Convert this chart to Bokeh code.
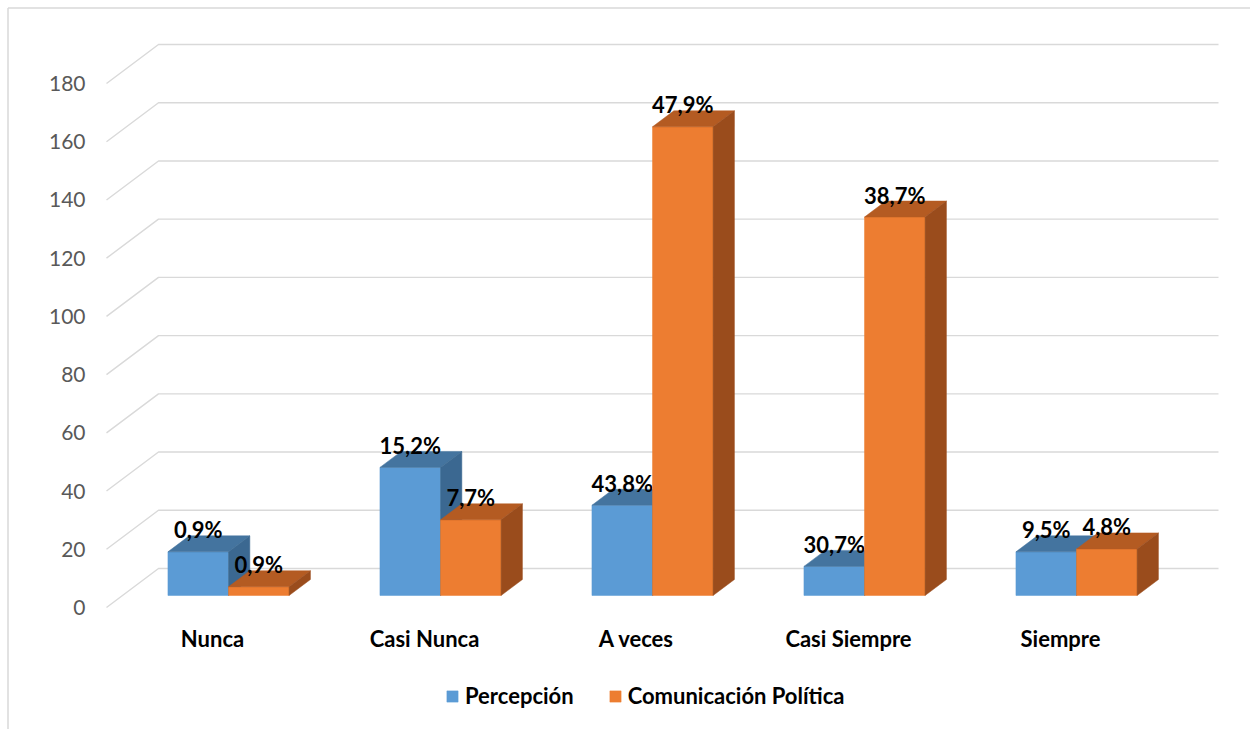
from bokeh.plotting import figure
from bokeh.models import Range1d, Legend, LegendItem
from bokeh.core.properties import value
from bokeh.embed import file_html
from bokeh.resources import INLINE

# ---- data -------------------------------------------------------------
categories = ["Nunca", "Casi Nunca", "A veces", "Casi Siempre", "Siempre"]
percepcion = [15, 44, 31, 10, 15]
comunicacion = [3, 26, 161, 130, 16]
etiquetas_percepcion = ["0,9%", "15,2%", "43,8%", "30,7%", "9,5%"]
etiquetas_comunicacion = ["0,9%", "7,7%", "47,9%", "38,7%", "4,8%"]
y_ticks = [0, 20, 40, 60, 80, 100, 120, 140, 160, 180]
series_names = ["Percepción", "Comunicación Política"]

# ---- geometry of the pseudo-3D view -------------------------------------
W, H = 1250, 729
X0_PX = 106            # left edge of the front floor
BAND_PX = 212          # one category band
Y0_PX = 607            # value 0 on the front plane
UNIT_PX = 524 / 180    # pixels per value unit
DX = 52 / BAND_PX      # wall depth, horizontal shift (x units)
DY = 39 / UNIT_PX      # wall depth, vertical shift (value units)
F0, F1 = 0.308, 0.718  # front / back of the bars as a fraction of depth
BAR_W = 1 / 3.5        # two bars + 150% gap per band

GRID = "#D9D9D9"
FACES = {
    "Percepción": ("#5B9BD5", "#44749F", "#3B6891"),
    "Comunicación Política": ("#ED7D31", "#B45B22", "#9A4C1C"),
}


def px_x(px):
    return (px - X0_PX) / BAND_PX


def px_y(py):
    return (Y0_PX - py) / UNIT_PX


p = figure(
    width=W, height=H,
    x_range=Range1d(px_x(0), px_x(W)),
    y_range=Range1d(px_y(H), px_y(0)),
    x_axis_type=None, y_axis_type=None,
    output_backend="svg", toolbar_location=None,
    min_border=0, outline_line_color=None,
    background_fill_color="white", border_fill_color="white",
)

# chart border (top and left edges)
p.multi_line(
    xs=[[px_x(7.5), px_x(W)], [px_x(7.5), px_x(7.5)]],
    ys=[[px_y(7.5), px_y(7.5)], [px_y(7.5), px_y(H)]],
    line_color=GRID, line_width=1.5,
)

# back-wall gridlines with their diagonal lead-in from the front
n = len(categories)
p.multi_line(
    xs=[[0, DX, n + DX] for _ in y_ticks],
    ys=[[v, v + DY, v + DY] for v in y_ticks],
    line_color=GRID, line_width=1.4,
)

# value-axis tick labels on the front plane
p.text(
    x=[0] * len(y_ticks), y=y_ticks, text=[str(v) for v in y_ticks],
    x_offset=-21, text_align="right", text_baseline="middle",
    text_font=value("Lato"), text_font_size="21px", text_color="#595959",
)

# ---- bars -----------------------------------------------------------------
ddx = (F1 - F0) * DX
ddy = (F1 - F0) * DY
base = F0 * DY
legend_items = []
for s, (name, vals, labels) in enumerate(
    [(series_names[0], percepcion, etiquetas_percepcion),
     (series_names[1], comunicacion, etiquetas_comunicacion)]
):
    front_xs, front_ys, top_xs, top_ys, side_xs, side_ys = [], [], [], [], [], []
    lx, ly = [], []
    for i, v in enumerate(vals):
        c = i + 0.5 + F0 * DX
        xl = c - BAR_W + s * BAR_W
        xr = xl + BAR_W
        yt = base + v
        front_xs.append([xl, xr, xr, xl])
        front_ys.append([base, base, yt, yt])
        top_xs.append([xl, xr, xr + ddx, xl + ddx])
        top_ys.append([yt, yt, yt + ddy, yt + ddy])
        side_xs.append([xr, xr + ddx, xr + ddx, xr])
        side_ys.append([base, base + ddy, yt + ddy, yt])
        lx.append((xl + xr) / 2)
        ly.append(yt + ddy)
    front_c, top_c, side_c = FACES[name]
    r = p.patches(front_xs, front_ys, fill_color=front_c, line_color=front_c, line_width=0.5)
    p.patches(top_xs, top_ys, fill_color=top_c, line_color=top_c, line_width=0.5)
    p.patches(side_xs, side_ys, fill_color=side_c, line_color=side_c, line_width=0.5)
    legend_items.append(LegendItem(label=name, renderers=[r]))
    p.text(
        x=lx, y=ly, text=labels, y_offset=-6,
        text_align="center", text_baseline="alphabetic",
        text_font=value("Lato"), text_font_style="bold",
        text_font_size="22px", text_color="black",
    )

# category labels along the front floor edge
p.text(
    x=[i + 0.5 for i in range(n)], y=[px_y(638)] * n, text=categories,
    text_align="center", text_baseline="middle",
    text_font=value("Lato"), text_font_style="bold",
    text_font_size="22px", text_color="black",
)

legend = Legend(
    items=legend_items, orientation="horizontal",
    location=(445, H - 709), padding=0, margin=0, spacing=34,
    glyph_width=14, glyph_height=14, label_standoff=6, label_height=14,
    label_text_font="Lato", label_text_font_style="bold",
    label_text_font_size="22px", label_text_color="black",
    border_line_color=None, background_fill_alpha=0,
)
p.add_layout(legend)

open("out.html", "w").write(file_html(p, INLINE))
